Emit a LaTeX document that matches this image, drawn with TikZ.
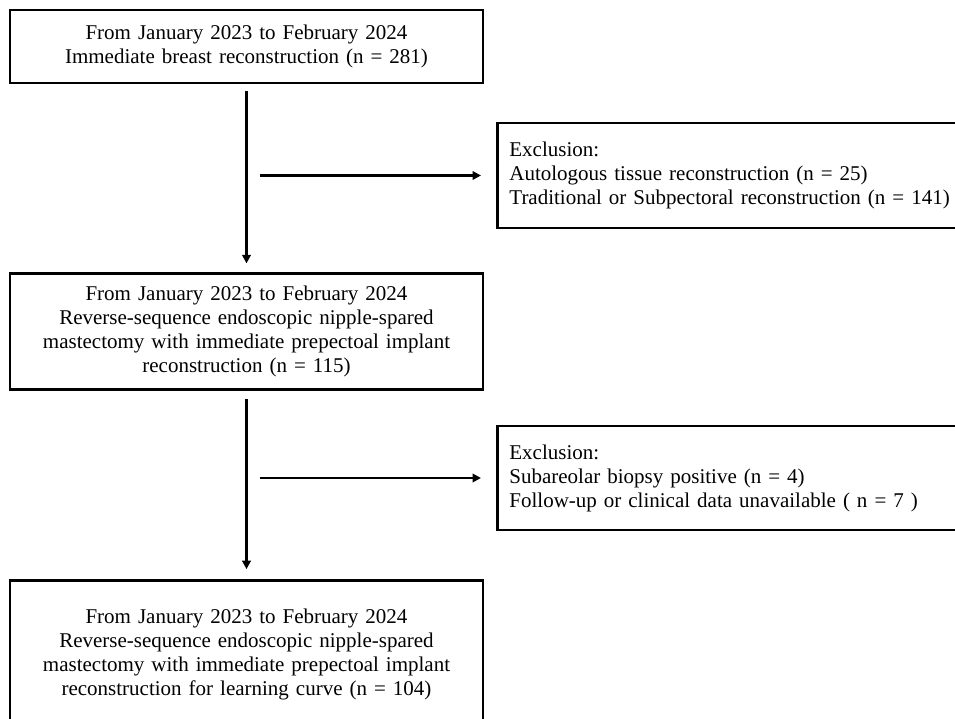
\documentclass[tikz,border=0pt]{standalone}
\usepackage{fontspec}
\setmainfont{Liberation Serif}
\usetikzlibrary{arrows.meta,positioning}
\definecolor{InkBlack}{HTML}{000000}
\tikzset{
  stepbox/.style={
    draw=InkBlack,
    line width=2.8pt,
    minimum width=473pt,
    inner xsep=12pt,
    text width=449pt,
    font=\fontsize{21}{24}\selectfont,
  },
  flow/.style={
    -{Triangle[length=8.5pt,width=8.5pt]},
    line width=2.2pt,
    draw=InkBlack,
  }
}

\begin{document}
\begin{tikzpicture}[node distance=188pt]
  \useasboundingbox (0,0) rectangle (955pt,719pt);
  \clip (0,0) rectangle (955pt,719pt);

  \node[
    stepbox,
    align=center,
    minimum height=73pt
  ] (start) at (246.5pt,672.5pt) {
    From January 2023 to February 2024\\
    Immediate breast reconstruction (n = 281)
  };

  \node[
    stepbox,
    align=center,
    minimum height=116pt,
    below=of start
  ] (rsenm) {
    From January 2023 to February 2024\\
    Reverse-sequence endoscopic nipple-spared\\
    mastectomy with immediate prepectoal implant\\
    reconstruction (n = 115)
  };

  \node[
    stepbox,
    align=center,
    minimum height=148pt,
    below=of rsenm
  ] (curve) {
    From January 2023 to February 2024\\
    Reverse-sequence endoscopic nipple-spared\\
    mastectomy with immediate prepectoal implant\\
    reconstruction for learning curve (n = 104)
  };

  \node[
    stepbox,
    align=left,
    minimum height=105pt,
    anchor=west
  ] (exclA) at (496pt,543.5pt) {
    Exclusion:\\
    Autologous tissue reconstruction (n = 25)\\
    Traditional or Subpectoral reconstruction (n = 141)
  };

  \node[
    stepbox,
    align=left,
    minimum height=104pt,
    anchor=west
  ] (exclB) at (496pt,241pt) {
    Exclusion:\\
    Subareolar biopsy positive (n = 4)\\
    Follow-up or clinical data unavailable ( n = 7 )
  };

  \coordinate[xshift=13pt] (splitA) at (start.south |- exclA.west);
  \coordinate[xshift=13pt] (splitB) at (rsenm.south |- exclB.west);

  \draw[flow, shorten <=7pt, shorten >=9pt] (start.south) -- (rsenm.north);
  \draw[flow, shorten <=8pt, shorten >=10pt] (rsenm.south) -- (curve.north);
  \draw[flow, shorten >=15pt] (splitA) -- (exclA.west);
  \draw[flow, shorten >=15pt] (splitB) -- (exclB.west);
\end{tikzpicture}
\end{document}
